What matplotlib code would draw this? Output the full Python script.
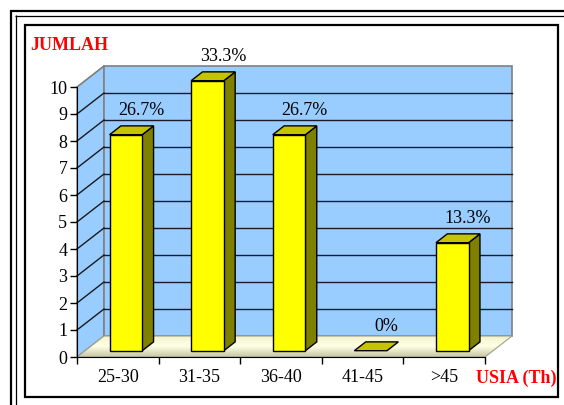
import numpy as np
import matplotlib
matplotlib.use("Agg")
import matplotlib.pyplot as plt
from matplotlib.patches import Polygon
from matplotlib.lines import Line2D
from matplotlib.colors import LinearSegmentedColormap

categories = ["25-30", "31-35", "36-40", "41-45", ">45"]
counts = [8, 10, 8, 0, 4]
pct_labels = ["26.7%", "33.3%", "26.7%", "0%", "13.3%"]
y_ticks = list(range(0, 11))

plt.rcParams["font.family"] = ["Liberation Serif", "DejaVu Serif"]

W, H = 564, 405
fig = plt.figure(figsize=(W / 100, H / 100), dpi=100)
ax = fig.add_axes([0, 0, 1, 1])

# map data -> pixels: x=0 at px 77, 1 category = 81.6 px; y=0 at py 357, 1 unit = 27 px
px_x0, px_cat = 77.0, 81.6
py_y0, py_unit = 357.0, 27.0
ax.set_xlim((0 - px_x0) / px_cat, (W - px_x0) / px_cat)
ax.set_ylim((py_y0 - H) / py_unit, py_y0 / py_unit)

# depth offset in data units
DX = 27.0 / px_cat
DY = 21.0 / py_unit
n = len(categories)
ymax = 10

# walls
ax.add_patch(Polygon([(0, 0), (0, ymax), (DX, ymax + DY), (DX, DY)],
                     closed=True, facecolor="#99CCFF", edgecolor="#808080", lw=1, zorder=1))
ax.add_patch(Polygon([(DX, DY), (n + DX, DY), (n + DX, ymax + DY), (DX, ymax + DY)],
                     closed=True, facecolor="#99CCFF", edgecolor="#808080", lw=1.2, zorder=1))

# floor with gradient
floor = Polygon([(0, 0), (n, 0), (n + DX, DY), (DX, DY)], closed=True,
                facecolor="none", edgecolor="#A0A090", lw=0.8, zorder=2)
ax.add_patch(floor)
grad = np.linspace(0, 1, 64).reshape(-1, 1)
fcmap = LinearSegmentedColormap.from_list("floor", ["#C8C8A4", "#FFFFE6", "#F2F2CC"])
im = ax.imshow(grad, cmap=fcmap, extent=(0, n + DX, 0, DY), origin="lower",
               aspect="auto", zorder=1.5)
im.set_clip_path(floor)

# gridlines
for v in y_ticks[1:]:
    if v < ymax:
        ax.plot([DX, n + DX], [v + DY, v + DY], color="#1a1a2e", lw=1, zorder=1.2)
    ax.plot([0, DX], [v, v + DY], color="#1a1a1a" if v < ymax else "#808080", lw=1, zorder=1.2)

# bars
bw = 0.4
f0, f1 = 0.30, 0.72
for i, v in enumerate(counts):
    xc = i + 0.5
    x0, x1 = xc - bw / 2, xc + bw / 2
    ax0, ay0 = f0 * DX, f0 * DY
    ax1, ay1 = f1 * DX, f1 * DY
    top = [(x0 + ax0, v + ay0), (x1 + ax0, v + ay0), (x1 + ax1, v + ay1), (x0 + ax1, v + ay1)]
    if v > 0:
        front = [(x0 + ax0, ay0), (x1 + ax0, ay0), (x1 + ax0, v + ay0), (x0 + ax0, v + ay0)]
        side = [(x1 + ax0, ay0), (x1 + ax1, ay1), (x1 + ax1, v + ay1), (x1 + ax0, v + ay0)]
        ax.add_patch(Polygon(side, closed=True, facecolor="#808000", edgecolor="black", lw=1, zorder=3))
        ax.add_patch(Polygon(front, closed=True, facecolor="#FFFF00", edgecolor="black", lw=1, zorder=3))
    ax.add_patch(Polygon(top, closed=True, facecolor="#C4C400", edgecolor="black", lw=1, zorder=3))
    ax.text(xc + 0.29, v + DY + 0.02, pct_labels[i], ha="center", va="bottom",
            fontsize=13, zorder=4)

# axes spines and ticks
for s in ["top", "right"]:
    ax.spines[s].set_visible(False)
ax.spines["left"].set_position(("data", 0))
ax.spines["left"].set_bounds(0, ymax)
ax.spines["bottom"].set_position(("data", 0))
ax.spines["bottom"].set_bounds(0, n)
ax.spines["left"].set_zorder(5)
ax.spines["bottom"].set_zorder(5)
ax.set_yticks(y_ticks)
ax.set_yticklabels([str(t) for t in y_ticks])
ax.set_xticks(range(n + 1))
ax.set_xticklabels([])
ax.set_xticks([i + 0.5 for i in range(n)], minor=True)
ax.set_xticklabels(categories, minor=True)
ax.tick_params(axis="y", direction="out", length=5, width=1, pad=2, labelsize=13)
ax.tick_params(axis="x", which="major", direction="out", length=5, width=1)
ax.tick_params(axis="x", which="minor", length=0, pad=9, labelsize=13)
ax.patch.set_visible(False)

# titles
fig.text(30 / W, 1 - 45 / H, "JUMLAH", color="red", fontweight="bold", fontsize=13,
         ha="left", va="center")
fig.text(556 / W, 1 - 378 / H, "USIA (Th)", color="red", fontweight="bold", fontsize=13,
         ha="right", va="center")

# frames
def hline(y, x0, x1, lw, color="black"):
    fig.add_artist(Line2D([x0 / W, x1 / W], [1 - y / H, 1 - y / H], color=color, lw=lw,
                          transform=fig.transFigure, solid_capstyle="butt"))

def vline(x, y0, y1, lw, color="black"):
    fig.add_artist(Line2D([x / W, x / W], [1 - y0 / H, 1 - y1 / H], color=color, lw=lw,
                          transform=fig.transFigure, solid_capstyle="butt"))

hline(11, 10, W, 1.6)
vline(11, 10, H, 1.6)
hline(15.5, 14.8, W, 0.9)
vline(15.5, 14.8, H, 0.9)
hline(24.5, 24, 559, 1.6)
hline(397, 24, 559, 1.6)
vline(24.5, 24, 398, 1.6)
vline(558, 24, 398, 1.6)

fig.savefig("out.png", dpi=100)
